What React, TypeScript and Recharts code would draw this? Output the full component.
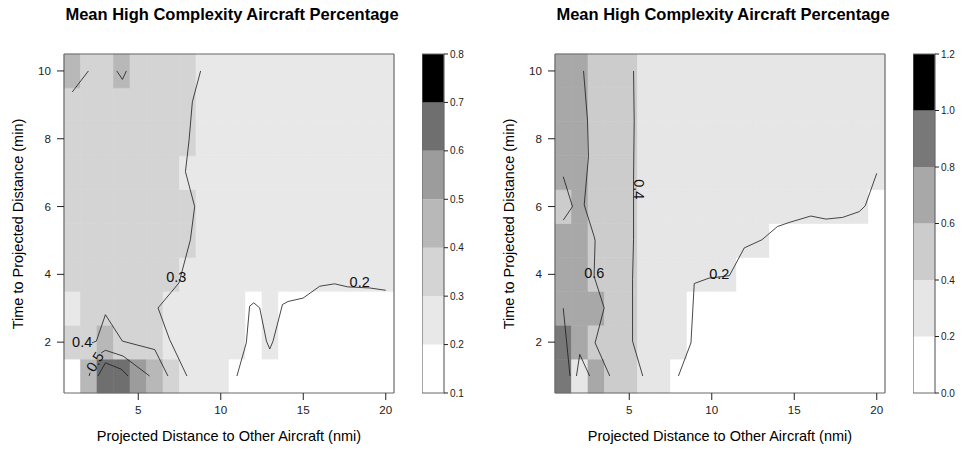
import React from "react";
import { ComposedChart, Line, ReferenceArea, Scatter, XAxis, YAxis } from "recharts";

const TITLE = "Mean High Complexity Aircraft Percentage";
const X_TITLE = "Projected Distance to Other Aircraft (nmi)";
const Y_TITLE = "Time to Projected Distance (min)";

const xCells = [1, 2, 3, 4, 5, 6, 7, 8, 9, 10, 11, 12, 13, 14, 15, 16, 17, 18, 19, 20];
const yCells = [1, 2, 3, 4, 5, 6, 7, 8, 9, 10];
const xTicks = [5, 10, 15, 20];
const yTicks = [2, 4, 6, 8, 10];

// colour key breaks and shades
const leftBreaks = [0.1, 0.2, 0.3, 0.4, 0.5, 0.6, 0.7, 0.8];
const leftShades = ["#ffffff", "#e8e8e8", "#d4d4d4", "#b8b8b8", "#9c9c9c", "#6f6f6f", "#000000"];
const rightBreaks = [0, 0.2, 0.4, 0.6, 0.8, 1.0, 1.2];
const rightShades = ["#ffffff", "#e6e6e6", "#cccccc", "#a8a8a8", "#787878", "#000000"];

// left panel cell means, rows bottom (y=1) to top (y=10)
const leftRow1 = [0.15, 0.45, 0.65, 0.62, 0.55, 0.45, 0.36, 0.28, 0.26, 0.23, 0.15, 0.14, 0.16, 0.15, 0.14, 0.13, 0.14, 0.15, 0.15, 0.16];
const leftRow2 = [0.33, 0.35, 0.43, 0.37, 0.36, 0.34, 0.27, 0.25, 0.24, 0.23, 0.22, 0.18, 0.22, 0.17, 0.16, 0.17, 0.17, 0.18, 0.18, 0.17];
const leftRow3 = [0.28, 0.34, 0.37, 0.36, 0.35, 0.32, 0.27, 0.25, 0.24, 0.23, 0.21, 0.19, 0.21, 0.19, 0.19, 0.19, 0.18, 0.18, 0.18, 0.18];
const leftRow4 = [0.36, 0.37, 0.36, 0.35, 0.34, 0.33, 0.31, 0.28, 0.26, 0.25, 0.24, 0.23, 0.22, 0.22, 0.21, 0.21, 0.21, 0.21, 0.21, 0.21];
const leftRow5 = [0.37, 0.38, 0.37, 0.36, 0.35, 0.34, 0.33, 0.31, 0.27, 0.26, 0.25, 0.25, 0.24, 0.24, 0.24, 0.23, 0.23, 0.23, 0.23, 0.23];
const leftRow6 = [0.37, 0.37, 0.36, 0.36, 0.35, 0.35, 0.34, 0.31, 0.28, 0.27, 0.26, 0.25, 0.25, 0.24, 0.24, 0.24, 0.24, 0.23, 0.23, 0.23];
const leftRow7 = [0.36, 0.37, 0.37, 0.36, 0.35, 0.34, 0.33, 0.29, 0.27, 0.26, 0.25, 0.25, 0.24, 0.24, 0.24, 0.23, 0.23, 0.23, 0.23, 0.23];
const leftRow8 = [0.37, 0.37, 0.36, 0.36, 0.35, 0.35, 0.34, 0.31, 0.28, 0.27, 0.26, 0.25, 0.25, 0.24, 0.24, 0.24, 0.23, 0.23, 0.23, 0.23];
const leftRow9 = [0.38, 0.36, 0.36, 0.37, 0.35, 0.35, 0.34, 0.31, 0.28, 0.27, 0.26, 0.26, 0.25, 0.25, 0.24, 0.24, 0.24, 0.23, 0.23, 0.23];
const leftRow10 = [0.42, 0.35, 0.36, 0.41, 0.36, 0.35, 0.34, 0.32, 0.28, 0.27, 0.26, 0.26, 0.25, 0.25, 0.24, 0.24, 0.24, 0.24, 0.23, 0.23];

// right panel cell means
const rightRow1 = [0.85, 0.35, 0.65, 0.55, 0.45, 0.3, 0.25, 0.15, 0.12, 0.1, 0.1, 0.11, 0.1, 0.09, 0.1, 0.1, 0.09, 0.1, 0.1, 0.11];
const rightRow2 = [0.88, 0.68, 0.55, 0.5, 0.45, 0.35, 0.3, 0.22, 0.18, 0.15, 0.14, 0.13, 0.13, 0.12, 0.12, 0.12, 0.12, 0.13, 0.13, 0.14];
const rightRow3 = [0.75, 0.7, 0.62, 0.5, 0.45, 0.35, 0.3, 0.25, 0.19, 0.18, 0.17, 0.16, 0.15, 0.14, 0.14, 0.14, 0.14, 0.15, 0.15, 0.16];
const rightRow4 = [0.7, 0.68, 0.55, 0.5, 0.45, 0.35, 0.3, 0.28, 0.25, 0.22, 0.21, 0.18, 0.17, 0.16, 0.16, 0.16, 0.16, 0.17, 0.17, 0.17];
const rightRow5 = [0.68, 0.62, 0.55, 0.5, 0.45, 0.35, 0.3, 0.28, 0.27, 0.25, 0.24, 0.22, 0.21, 0.19, 0.18, 0.18, 0.18, 0.18, 0.18, 0.18];
const rightRow6 = [0.55, 0.65, 0.55, 0.5, 0.45, 0.35, 0.3, 0.29, 0.28, 0.27, 0.26, 0.25, 0.24, 0.23, 0.22, 0.22, 0.22, 0.22, 0.21, 0.18];
const rightRow7 = [0.7, 0.66, 0.55, 0.5, 0.45, 0.35, 0.3, 0.29, 0.28, 0.27, 0.26, 0.26, 0.25, 0.25, 0.24, 0.24, 0.24, 0.24, 0.23, 0.22];
const rightRow8 = [0.72, 0.67, 0.55, 0.5, 0.45, 0.35, 0.31, 0.29, 0.28, 0.27, 0.27, 0.26, 0.26, 0.25, 0.25, 0.25, 0.24, 0.24, 0.24, 0.23];
const rightRow9 = [0.72, 0.66, 0.55, 0.5, 0.45, 0.35, 0.31, 0.3, 0.28, 0.28, 0.27, 0.26, 0.26, 0.25, 0.25, 0.25, 0.25, 0.24, 0.24, 0.24];
const rightRow10 = [0.71, 0.65, 0.55, 0.5, 0.45, 0.36, 0.32, 0.3, 0.29, 0.28, 0.27, 0.27, 0.26, 0.26, 0.25, 0.25, 0.25, 0.25, 0.24, 0.24];

// contour lines, [x, y] pairs in data units
const leftC03 = [[8.78, 10], [8.28, 9.09], [8.08, 7.96], [7.86, 7.03], [8.42, 6.0], [8.16, 5.02], [7.47, 3.75], [6.2, 3.01], [6.9, 2.08], [7.95, 1.0]];
const leftC04a = [[1.0, 9.38], [1.98, 10]];
const leftC04b = [[3.7, 10], [4.04, 9.75], [4.28, 10]];
const leftC04c = [[2.2, 1.98], [2.46, 2.03], [3.01, 2.81], [4.04, 2.03], [6.0, 1.78], [6.8, 1.0]];
const leftC05 = [[2.02, 1.0], [2.08, 1.1]];
const leftC05b = [[2.75, 1.68], [3.01, 1.76], [4.08, 1.59], [5.69, 1.0]];
const leftC06 = [[2.56, 1.0], [3.01, 1.39], [3.98, 1.2], [4.38, 1.0]];
const leftC02 = [[10.98, 1.0], [11.55, 1.98], [11.75, 3.06], [12.0, 3.16], [12.36, 3.01], [12.77, 2.03], [12.97, 1.8], [13.17, 2.03], [13.74, 3.11], [14.08, 3.2], [14.99, 3.3], [16.0, 3.65], [16.9, 3.72], [17.7, 3.63], [19.0, 3.6], [20.0, 3.53]];
const leftLines = [leftC03, leftC04a, leftC04b, leftC04c, leftC05, leftC05b, leftC06, leftC02];

const rightC02 = [[7.98, 1.0], [8.74, 1.98], [8.94, 3.73], [9.84, 3.89], [11.07, 3.96], [11.97, 4.78], [13.04, 5.02], [13.98, 5.41], [14.69, 5.53], [16.0, 5.72], [16.92, 5.63], [17.93, 5.68], [18.94, 5.85], [19.3, 6.02], [20.0, 6.98]];
const rightC04 = [[5.26, 10], [5.3, 8.55], [5.26, 6.78], [5.26, 5.02], [5.2, 3.84], [5.2, 2.03], [5.82, 1.0]];
const rightC06 = [[2.23, 10], [2.47, 8.55], [2.53, 7.47], [2.27, 6.05], [2.87, 5.12], [2.93, 5.0], [2.87, 3.94], [3.48, 3.01], [2.93, 1.98], [3.82, 1.0]];
const rightC06b = [[1.0, 6.88], [1.56, 6.0], [1.0, 5.6]];
const rightC06c = [[1.8, 1.0], [2.0, 1.64], [2.6, 1.0]];
const rightC08 = [[1.0, 3.0], [1.41, 1.0]];
const rightLines = [rightC02, rightC04, rightC06, rightC06b, rightC06c, rightC08];

// contour labels: [x, y, text, angle]
const leftLabels = [[7.31, 3.93, "0.3", 0], [1.6, 1.99, "0.4", 0], [2.38, 1.42, "0.5", -58], [18.42, 3.76, "0.2", 0]];
const rightLabels = [[2.88, 4.05, "0.6", 0], [5.61, 6.51, "0.4", 90], [10.46, 4.02, "0.2", 0]];

const FONT = "'Liberation Sans', Arial, Helvetica, sans-serif";
const BOX = "#6b6b6b";
const INK = "#222222";

function shadeFor(v: number, breaks: number[], shades: string[]) {
  for (let i = 0; i < shades.length; i++) {
    if (v >= breaks[i] && v < breaks[i + 1]) return shades[i];
  }
  return shades[shades.length - 1];
}

interface PanelProps {
  left: number;
  rows: number[][];
  breaks: number[];
  shades: string[];
  lines: number[][][];
  labels: (string | number)[][];
}

function LabelShape(props: any) {
  const { cx, cy, payload } = props;
  return (
    <text
      x={cx}
      y={cy}
      textAnchor="middle"
      dominantBaseline="central"
      fontSize={14.5}
      fontFamily={FONT}
      fill="#111"
      transform={`rotate(${payload.angle} ${cx} ${cy})`}
    >
      {payload.text}
    </text>
  );
}

function Panel({ left, rows, breaks, shades, lines, labels }: PanelProps) {
  const cells: { x: number; y: number; v: number }[] = [];
  rows.forEach((row, j) => row.forEach((v, i) => cells.push({ x: xCells[i], y: yCells[j], v })));
  const labelData = labels.map(([x, y, text, angle]) => ({ x, y, text, angle }));
  const keyMin = breaks[0];
  const keyMax = breaks[breaks.length - 1];

  return (
    <>
      <div
        style={{
          position: "absolute",
          left: left + 232 - 200,
          top: 5,
          width: 400,
          textAlign: "center",
          fontFamily: FONT,
          fontWeight: "bold",
          fontSize: 16.5,
          color: "#000",
        }}
      >
        {TITLE}
      </div>
      <div style={{ position: "absolute", left, top: 0 }}>
        <ComposedChart width={404} height={450} margin={{ top: 0, right: 0, bottom: 0, left: 0 }}>
          <XAxis
            dataKey="x"
            type="number"
            domain={[0.5, 20.5]}
            allowDataOverflow
            ticks={xTicks}
            height={57}
            tickSize={7}
            tickMargin={6}
            axisLine={{ stroke: BOX, strokeWidth: 1.2 }}
            tickLine={{ stroke: INK }}
            tick={{ fontSize: 11.6, fontFamily: FONT, fill: INK }}
          />
          <XAxis
            xAxisId="top"
            orientation="top"
            type="number"
            domain={[0.5, 20.5]}
            allowDataOverflow
            ticks={xTicks}
            height={54}
            tickSize={7}
            tick={false}
            axisLine={{ stroke: BOX, strokeWidth: 1.2 }}
            tickLine={{ stroke: INK }}
          />
          <YAxis
            type="number"
            domain={[0.5, 10.5]}
            allowDataOverflow
            ticks={yTicks}
            width={64}
            tickSize={7}
            tickMargin={6}
            axisLine={{ stroke: BOX, strokeWidth: 1.2 }}
            tickLine={{ stroke: INK }}
            tick={{ fontSize: 11.6, fontFamily: FONT, fill: INK }}
          />
          <YAxis
            yAxisId="right"
            orientation="right"
            type="number"
            domain={[0.5, 10.5]}
            allowDataOverflow
            ticks={yTicks}
            width={10}
            tickSize={7}
            tick={false}
            axisLine={{ stroke: BOX, strokeWidth: 1.2 }}
            tickLine={{ stroke: INK }}
          />
          {cells.map((c) => (
            <ReferenceArea
              key={`${c.x}-${c.y}`}
              x1={c.x - 0.5}
              x2={c.x + 0.5}
              y1={c.y - 0.5}
              y2={c.y + 0.5}
              ifOverflow="visible"
              fill={shadeFor(c.v, breaks, shades)}
              fillOpacity={1}
              stroke={shadeFor(c.v, breaks, shades)}
              strokeWidth={0.6}
            />
          ))}
          {lines.map((pts, i) => (
            <Line
              key={i}
              data={pts.map(([x, y]) => ({ x, y }))}
              dataKey="y"
              type="linear"
              stroke="#1a1a1a"
              strokeWidth={0.8}
              dot={false}
              activeDot={false}
              isAnimationActive={false}
            />
          ))}
          <Scatter data={labelData} dataKey="y" shape={LabelShape} isAnimationActive={false} />
        </ComposedChart>
      </div>
      <div style={{ position: "absolute", left: left + 422, top: 0 }}>
        <ComposedChart width={62} height={450} margin={{ top: 54, right: 0, bottom: 57, left: 0 }}>
          <XAxis type="number" dataKey="x" domain={[0, 1]} allowDataOverflow hide />
          <YAxis
            orientation="right"
            type="number"
            domain={[keyMin, keyMax]}
            allowDataOverflow
            ticks={breaks}
            width={40}
            tickSize={4}
            tickMargin={2}
            axisLine={false}
            tickLine={{ stroke: INK }}
            tickFormatter={(v: number) => v.toFixed(1)}
            tick={{ fontSize: 10, fontFamily: FONT, fill: INK }}
          />
          {shades.map((s, i) => (
            <ReferenceArea
              key={i}
              x1={0}
              x2={1}
              y1={breaks[i]}
              y2={breaks[i + 1]}
              ifOverflow="visible"
              fill={s}
              fillOpacity={1}
              stroke="none"
            />
          ))}
          <ReferenceArea x1={0} x2={1} y1={keyMin} y2={keyMax} ifOverflow="visible" fill="none" stroke={BOX} strokeWidth={1.2} />
        </ComposedChart>
      </div>
      <div
        style={{
          position: "absolute",
          left: left + 229 - 200,
          top: 428,
          width: 400,
          textAlign: "center",
          fontFamily: FONT,
          fontSize: 14.5,
          color: "#000",
        }}
      >
        {X_TITLE}
      </div>
      <div
        style={{
          position: "absolute",
          left: left + 18,
          top: 223.5,
          transform: "translate(-50%, -50%) rotate(-90deg)",
          whiteSpace: "nowrap",
          fontFamily: FONT,
          fontSize: 14.5,
          color: "#000",
        }}
      >
        {Y_TITLE}
      </div>
    </>
  );
}

export default function App() {
  const leftRows = [leftRow1, leftRow2, leftRow3, leftRow4, leftRow5, leftRow6, leftRow7, leftRow8, leftRow9, leftRow10];
  const rightRows = [rightRow1, rightRow2, rightRow3, rightRow4, rightRow5, rightRow6, rightRow7, rightRow8, rightRow9, rightRow10];
  return (
    <div style={{ position: "absolute", left: 0, top: 0, width: 968, height: 450, background: "#fff", overflow: "hidden" }}>
      <Panel left={0} rows={leftRows} breaks={leftBreaks} shades={leftShades} lines={leftLines} labels={leftLabels} />
      <Panel left={491} rows={rightRows} breaks={rightBreaks} shades={rightShades} lines={rightLines} labels={rightLabels} />
    </div>
  );
}
